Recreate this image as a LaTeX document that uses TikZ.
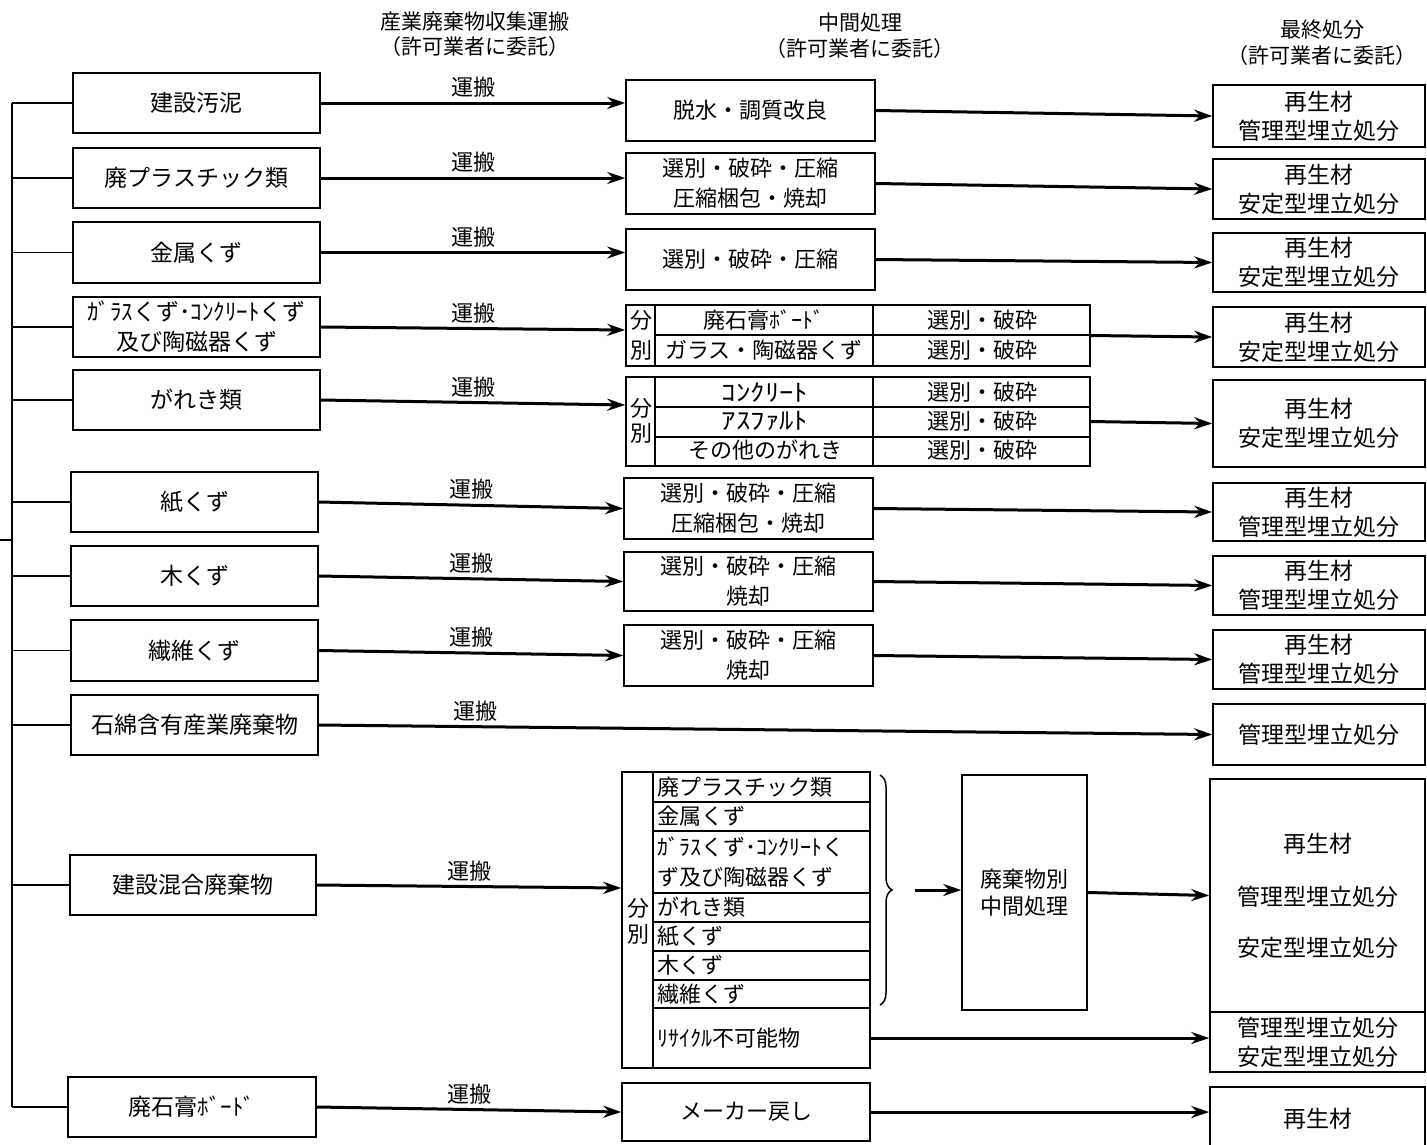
\documentclass[tikz,border=0pt]{standalone}
\usepackage{fontspec}
\setmainfont{Noto Sans CJK JP}
\usetikzlibrary{arrows.meta,decorations.pathreplacing}
\newcommand\mybox[6]{\node[box,minimum width={#4-#2},minimum height={#5-#3}] (#1) at ({(#2+#4)/2},{(#3+#5)/2}) {#6};}
\begin{document}
\begin{tikzpicture}[x=1pt,y=-1pt,
  box/.style={draw, line width=1.5pt, inner sep=0pt, align=center, font=\fontsize{22}{30}\selectfont},
  txt/.style={inner sep=0pt, align=center, font=\fontsize{22}{30}\selectfont},
  hkt/.style={inner sep=0pt, align=center, xscale=1.2, font=\fontsize{24}{30}\selectfont},
  ltxt/.style={inner sep=0pt, anchor=west, font=\fontsize{22}{30}\selectfont},
  hdr/.style={inner sep=0pt, align=center, font=\fontsize{21}{26}\selectfont},
  arr/.style={line width=3pt, -{Stealth[length=18pt,width=12pt]}},
  thinl/.style={line width=1.5pt},
]
\useasboundingbox (0,0) rectangle (1427,1144);
\fill[white] (0,0) rectangle (1427,1144);

% headers
\node[hdr] (h1) at (475,22) {産業廃棄物収集運搬};
\node[hdr] (h1b) at (475,47) {（許可業者に委託）};
\node[hdr] (h2) at (860,23) {中間処理};
\node[hdr] (h2b) at (860,49) {（許可業者に委託）};
\node[hdr] (h3) at (1322,30) {最終処分};
\node[hdr] (h3b) at (1322,56) {（許可業者に委託）};

% left column
\begin{scope}[box/.style={draw, line width=1.5pt, inner sep=0pt, align=center, font=\fontsize{23}{30}\selectfont}]
\mybox{L1}{73}{73}{320}{133}{建設汚泥}
\mybox{L2}{73}{148}{320}{208}{廃プラスチック類}
\mybox{L3}{73}{222}{320}{283}{金属くず}
\mybox{L4}{73}{297}{320}{357}{ｶﾞﾗｽくず･ｺﾝｸﾘｰﾄくず\\及び陶磁器くず}
\mybox{L5}{73}{370}{320}{430}{がれき類}
\mybox{L6}{71}{472}{318}{532}{紙くず}
\mybox{L7}{71}{546}{318}{606}{木くず}
\mybox{L8}{71}{620}{318}{681}{繊維くず}
\mybox{L9}{71}{695}{318}{755}{石綿含有産業廃棄物}
\mybox{L10}{70}{855}{316}{915}{建設混合廃棄物}
\mybox{L11}{68}{1077}{316}{1137}{廃石膏ﾎﾞｰﾄﾞ}
\end{scope}

% bus
\coordinate (bustop) at (12,103);
\coordinate (busbot) at (12,1107);
\coordinate (stub) at (0,540);
\draw[thinl] (bustop) -- (busbot);
\draw[thinl] (stub) -- (stub -| bustop);
\foreach \n in {L1,L2,L3,L4,L5,L6,L7,L8,L9,L10,L11}
  \draw[thinl] (\n.west -| bustop) -- (\n.west);

% middle column
\mybox{M1}{626}{80}{875}{141}{脱水・調質改良}
\mybox{M2}{626}{153}{875}{214}{選別・破砕・圧縮\\圧縮梱包・焼却}
\mybox{M3}{626}{229}{875}{290}{選別・破砕・圧縮}

\mybox{M4}{626}{305}{1090}{366}{}
\draw[thinl] (655,305) -- (655,366) (655,335) -- (1090,335) (873,305) -- (873,366);
\node[txt] (M4f) at (641,320) {分};
\node[txt] (M4b) at (641,350) {別};
\node[txt] (M4r1) at (764,320) {廃石膏ﾎﾞｰﾄﾞ};
\node[txt] (M4r2) at (764,350) {ガラス・陶磁器くず};
\node[txt] (M4s1) at (982,320) {選別・破砕};
\node[txt] (M4s2) at (982,350) {選別・破砕};

\mybox{M5}{626}{377}{1090}{466}{}
\draw[thinl] (655,377) -- (655,466) (655,407) -- (1090,407) (655,437) -- (1090,437) (873,377) -- (873,466);
\node[txt] (M5f) at (641,408) {分};
\node[txt] (M5b) at (641,433) {別};
\node[hkt] (M5r1) at (765,392) {ｺﾝｸﾘｰﾄ};
\node[hkt] (M5r2) at (765,421) {ｱｽﾌｧﾙﾄ};
\node[txt] (M5r3) at (765,450) {その他のがれき};
\node[txt] (M5s1) at (982,392) {選別・破砕};
\node[txt] (M5s2) at (982,421) {選別・破砕};
\node[txt] (M5s3) at (982,450) {選別・破砕};

\mybox{M6}{624}{478}{873}{539}{選別・破砕・圧縮\\圧縮梱包・焼却}
\mybox{M7}{624}{552}{873}{611}{選別・破砕・圧縮\\焼却}
\mybox{M8}{624}{625}{873}{686}{選別・破砕・圧縮\\焼却}

\mybox{M10}{622}{772}{870}{1068}{}
\draw[thinl] (653,772) -- (653,1068);
\foreach \yy in {802,831,893,922,951,980,1008}
  \draw[thinl] (653,\yy) -- (870,\yy);
\node[txt] (M10f) at (638,908) {分};
\node[txt] (M10b) at (638,934) {別};
\node[ltxt] (Mp1) at (657,787) {廃プラスチック類};
\node[ltxt] (Mp2) at (657,816) {金属くず};
\node[ltxt] (Mp3) at (657,847) {ｶﾞﾗｽくず･ｺﾝｸﾘｰﾄく};
\node[ltxt] (Mp3b) at (657,877) {ず及び陶磁器くず};
\node[ltxt] (Mp4) at (657,907) {がれき類};
\node[ltxt] (Mp5) at (657,936) {紙くず};
\node[ltxt] (Mp6) at (657,965) {木くず};
\node[ltxt] (Mp7) at (657,994) {繊維くず};
\node[ltxt] (Mrc) at (657,1038) {ﾘｻｲｸﾙ不可能物};

\mybox{M10w}{962}{775}{1087}{1010}{廃棄物別\\[-3pt]中間処理}
\draw[thinl, decorate, decoration={brace, amplitude=12pt}] (880,775) -- (880,1005);
\coordinate (bt) at (915,890);
\draw[arr] (bt) -- (bt -| M10w.west);

\mybox{M11}{622}{1083}{870}{1141}{メーカー戻し}

% right column
\begin{scope}[box/.style={draw, line width=1.5pt, inner sep=0pt, align=center, font=\fontsize{23}{29}\selectfont}]
\mybox{R1}{1213}{85}{1425}{147}{再生材\\管理型埋立処分}
\mybox{R2}{1213}{159}{1425}{219}{再生材\\安定型埋立処分}
\mybox{R3}{1213}{233}{1425}{292}{再生材\\安定型埋立処分}
\mybox{R4}{1213}{307}{1425}{367}{再生材\\安定型埋立処分}
\mybox{R5}{1213}{380}{1425}{467}{再生材\\安定型埋立処分}
\mybox{R6}{1213}{483}{1425}{541}{再生材\\管理型埋立処分}
\mybox{R7}{1213}{556}{1425}{615}{再生材\\管理型埋立処分}
\mybox{R8}{1213}{630}{1425}{689}{再生材\\管理型埋立処分}
\mybox{R9}{1213}{704}{1425}{765}{管理型埋立処分}
\mybox{R10}{1210}{779}{1425}{1012}{再生材\\[24pt]管理型埋立処分\\[22pt]安定型埋立処分}
\mybox{R11}{1210}{1012}{1425}{1072}{管理型埋立処分\\安定型埋立処分}
\mybox{R12}{1210}{1087}{1425}{1150}{再生材}
\end{scope}

% arrows left -> middle
\draw[arr] (L1.east) -- (L1.east -| M1.west) node[txt, pos=0.5, above=4pt] (t1) {運搬};
\draw[arr] (L2.east) -- (L2.east -| M2.west) node[txt, pos=0.5, above=4pt] (t2) {運搬};
\draw[arr] (L3.east) -- (L3.east -| M3.west) node[txt, pos=0.5, above=4pt] (t3) {運搬};
\draw[arr] (L4.east) -- (M4.west |- 0,330) node[txt, pos=0.5, above=4pt] (t4) {運搬};
\draw[arr] (L5.east) -- (M5.west |- 0,405) node[txt, pos=0.5, above=4pt] (t5) {運搬};
\draw[arr] (L6.east) -- (M6.west) node[txt, pos=0.5, above=4pt] (t6) {運搬};
\draw[arr] (L7.east) -- (M7.west) node[txt, pos=0.5, above=4pt] (t7) {運搬};
\draw[arr] (L8.east) -- (M8.west) node[txt, pos=0.5, above=4pt] (t8) {運搬};
\draw[arr] (L9.east) -- (R9.west) node[txt, pos=0.175, above=4pt] (t9) {運搬};
\draw[arr] (L10.east) -- (M10.west |- 0,888) node[txt, pos=0.5, above=4pt] (t10) {運搬};
\draw[arr] (L11.east) -- (M11.west) node[txt, pos=0.5, above=4pt] (t11) {運搬};

% arrows middle -> right
\draw[arr] (M1.east) -- (R1.west);
\draw[arr] (M2.east) -- (R2.west);
\draw[arr] (M3.east) -- (R3.west);
\draw[arr] (M4.east) -- (R4.west);
\draw[arr] (M5.east) -- (R5.west);
\draw[arr] (M6.east) -- (R6.west);
\draw[arr] (M7.east) -- (R7.west);
\draw[arr] (M8.east) -- (R8.west);
\draw[arr] (M10w.east) -- (R10.west);
\draw[arr] (M10.east |- Mrc) -- (R11.west |- Mrc);
\draw[arr] (M11.east) -- (M11.east -| R12.west);
\end{tikzpicture}
\end{document}
